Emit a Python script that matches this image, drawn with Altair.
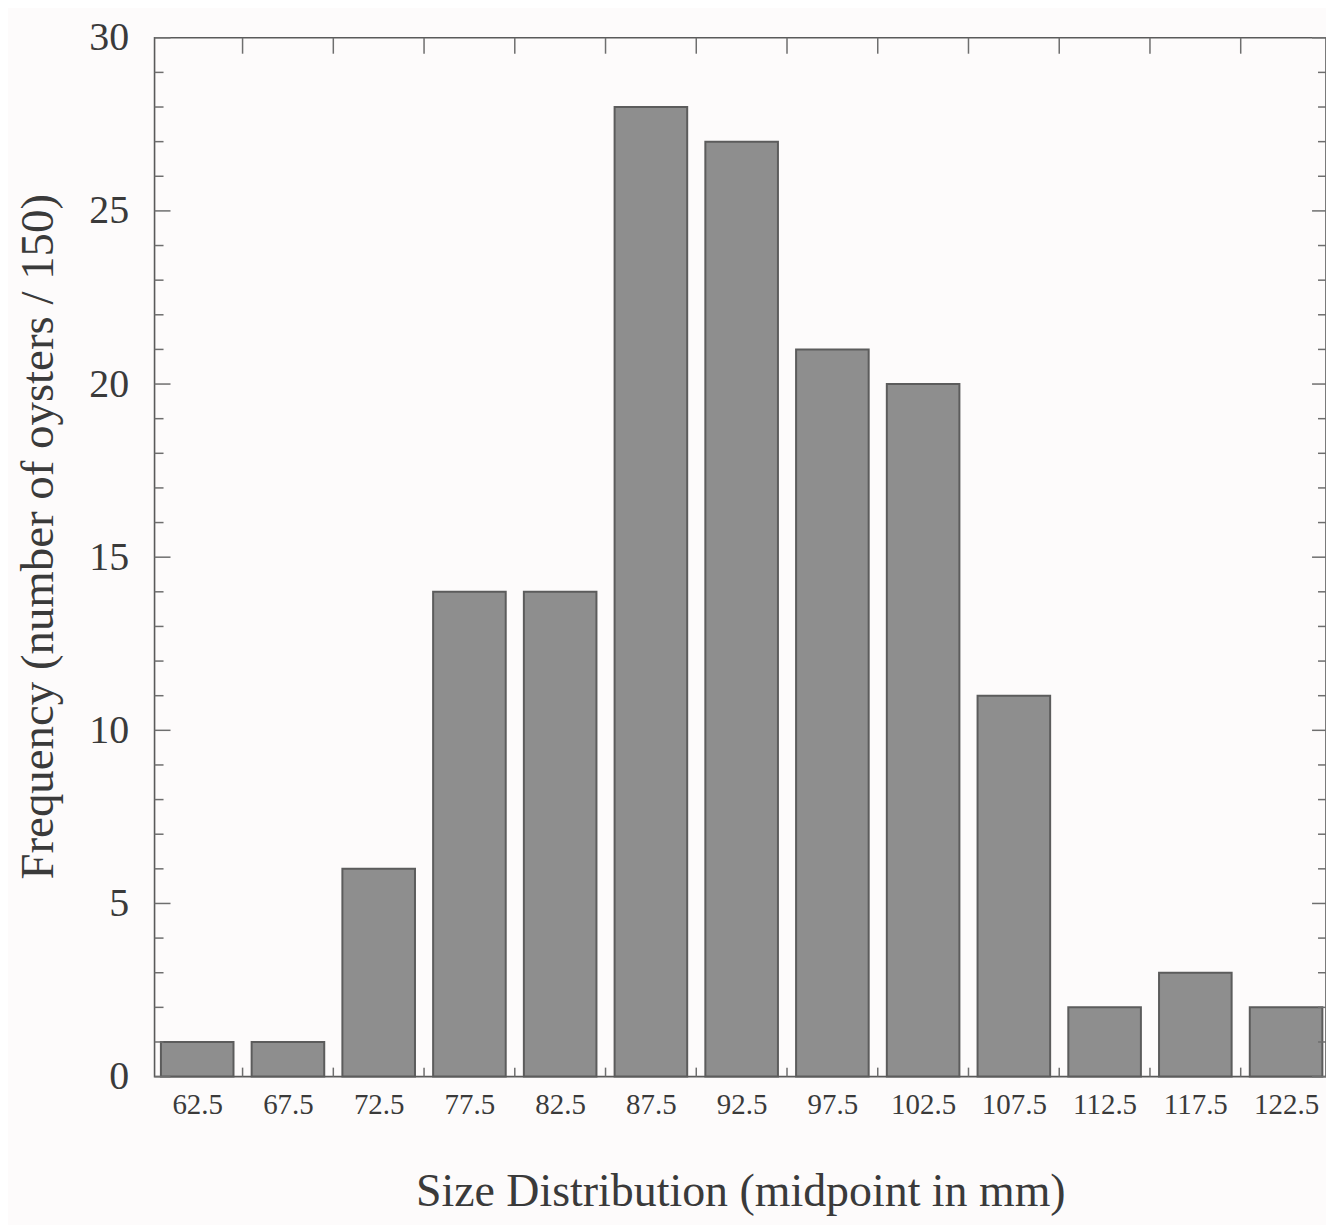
import altair as alt
import pandas as pd

# Data
midpoints = [62.5, 67.5, 72.5, 77.5, 82.5, 87.5, 92.5, 97.5, 102.5, 107.5, 112.5, 117.5, 122.5]
frequency = [1, 1, 6, 14, 14, 28, 27, 21, 20, 11, 2, 3, 2]
x_tick_values = [65, 70, 75, 80, 85, 90, 95, 100, 105, 110, 115, 120]
y_major_ticks = [0, 5, 10, 15, 20, 25, 30]
y_minor_ticks = [v for v in range(1, 30) if v % 5 != 0]
bin_half_width = 2.0

bars_df = pd.DataFrame({
    "mid": midpoints,
    "lo": [m - bin_half_width for m in midpoints],
    "hi": [m + bin_half_width for m in midpoints],
    "freq": frequency,
})
xt_df = pd.DataFrame({"xt": x_tick_values})
ymaj_df = pd.DataFrame({"yt": y_major_ticks})
ymin_df = pd.DataFrame({"yt": y_minor_ticks})

W, H = 1175, 1042
FONT = "Liberation Serif"
TXT = "#3a3a3a"
TICK = "#6e6e6e"

xscale = alt.Scale(domain=[60.15, 124.7], nice=False, zero=False)
yscale = alt.Scale(domain=[0, 30], nice=False)

bars = alt.Chart(bars_df).mark_bar(
    fill="#8e8e8e", stroke="#5c5c5c", strokeWidth=2
).encode(
    x=alt.X("lo:Q", scale=xscale, axis=alt.Axis(
        values=midpoints, ticks=False, domain=False, grid=False,
        labelFont=FONT, labelFontSize=29, labelColor=TXT, labelPadding=14,
        labelExpr="format(datum.value, '.1f')",
        title="Size Distribution (midpoint in mm)",
        titleFont=FONT, titleFontSize=46, titleFontWeight="normal", titleColor=TXT,
        titleBaseline="alphabetic", titleY=129,
    )),
    x2="hi:Q",
    y=alt.Y("freq:Q", scale=yscale, axis=alt.Axis(
        values=y_major_ticks, ticks=False, domain=False, grid=False,
        labelFont=FONT, labelFontSize=40, labelColor=TXT, labelPadding=26,
        title="Frequency (number of oysters / 150)",
        titleFont=FONT, titleFontSize=47, titleFontWeight="normal", titleColor=TXT,
        titleX=-92, titleY=500,
    )),
    y2=alt.datum(0),
)

def vrule(df, x0, x1, width=1.5):
    return alt.Chart(df).mark_rule(color=TICK, strokeWidth=width).encode(
        y=alt.Y("yt:Q", scale=yscale), x=alt.value(x0), x2=alt.value(x1)
    )

def hrule(df, y0, y1, width=1.5):
    return alt.Chart(df).mark_rule(color=TICK, strokeWidth=width).encode(
        x=alt.X("xt:Q", scale=xscale), y=alt.value(y0), y2=alt.value(y1)
    )

left_major = vrule(ymaj_df, 0, 16)
left_minor = vrule(ymin_df, 0, 9)
right_major = vrule(ymaj_df, W - 14, W)
right_minor = vrule(ymin_df, W - 8, W)
top_ticks = hrule(xt_df, 0, 16)
bottom_ticks = hrule(xt_df, H - 9, H)

chart = alt.layer(
    bars, left_major, left_minor, right_major, right_minor, top_ticks, bottom_ticks
).properties(
    width=W, height=H,
    autosize=alt.AutoSizeParams(type="none"),
    padding={"left": 147, "top": 28, "right": 0, "bottom": 150},
    background="#fdfbfb",
).configure_view(
    stroke="#5a5a5a", strokeWidth=1.6
)

chart.save("out.html", embed_options={"renderer": "svg", "actions": False})
